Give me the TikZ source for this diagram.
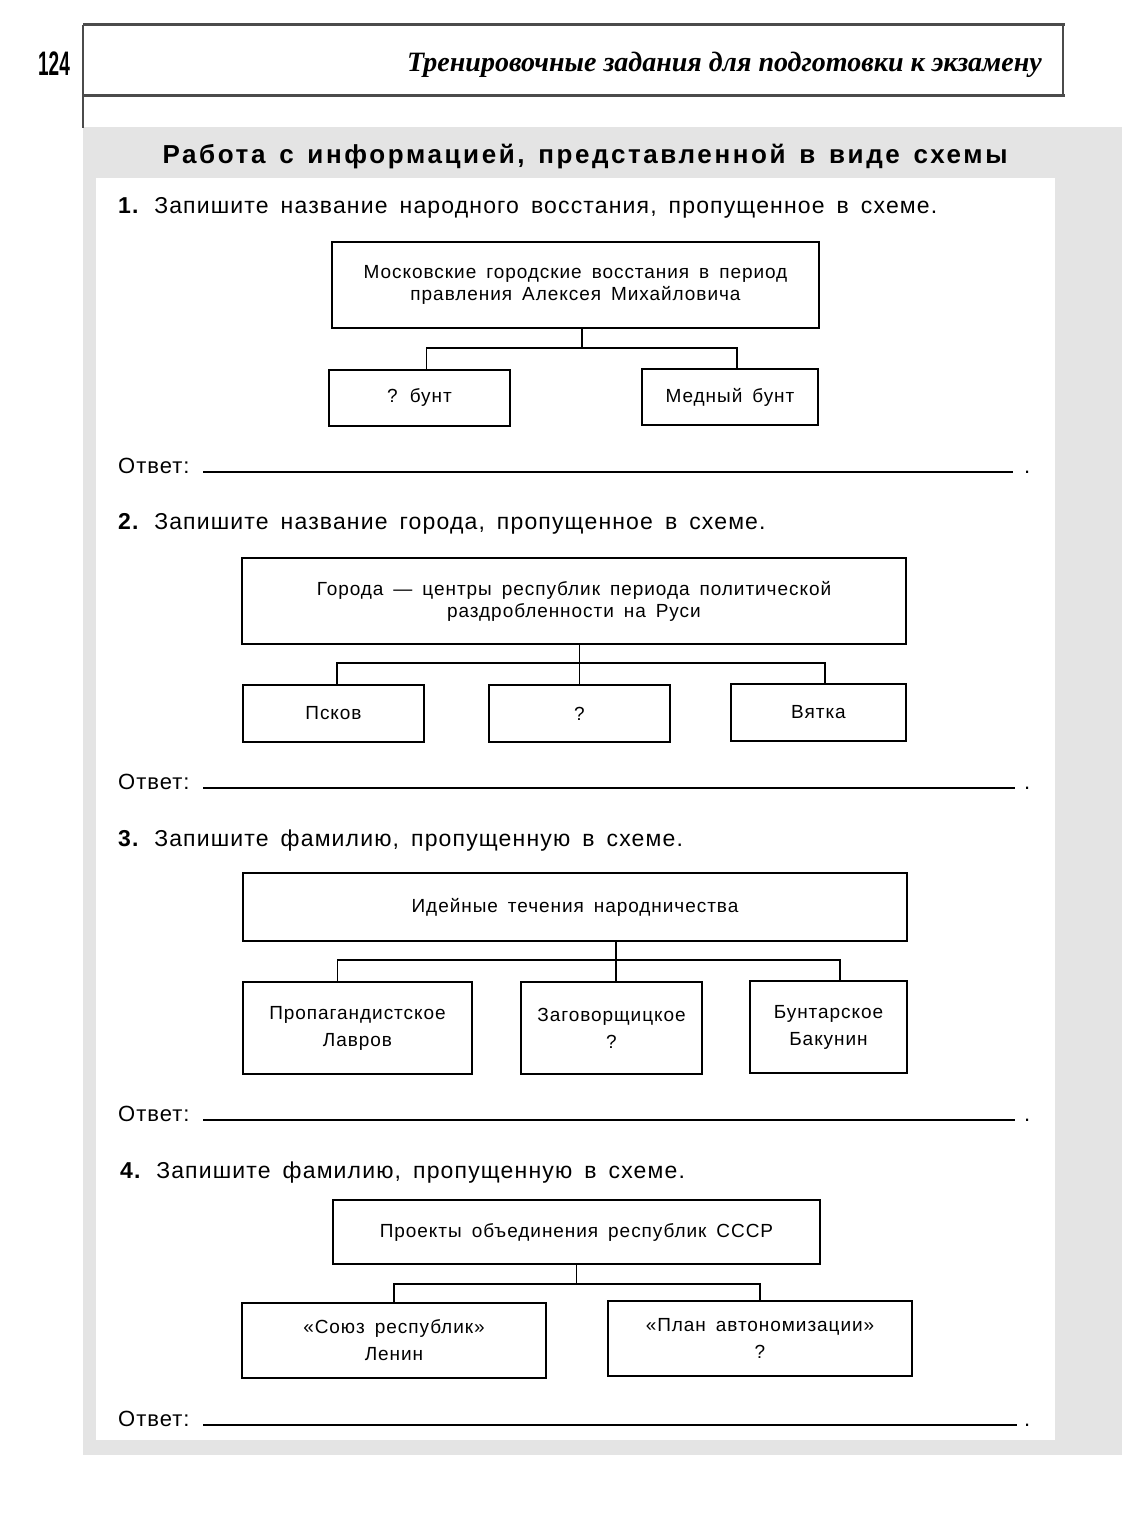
\documentclass[tikz,border=0pt]{standalone}
\usepackage{fontspec}
\setmainfont{Liberation Sans}
\newfontfamily\hdrfont{Liberation Serif}
\newfontfamily\taskfont{Liberation Sans}[LetterSpace=5, WordSpace=1.6]
\newfontfamily\titlefont{Liberation Sans}[LetterSpace=10, WordSpace=1.4]
\newfontfamily\ansfont{Liberation Sans}[LetterSpace=4.5]
\usepackage{tikz}
\usetikzlibrary{calc, positioning}
\definecolor{panelgray}{RGB}{228,228,228}
\definecolor{rulegray}{RGB}{75,75,75}

\begin{document}
\begin{tikzpicture}[x=1pt, y=-1pt,
    box/.style={draw, line width=1.8pt, inner sep=0pt, align=center,
        font=\taskfont\fontsize{19}{22}\selectfont},
    leaf/.style={box, font=\taskfont\fontsize{19}{27}\selectfont},
    link/.style={line width=1.8pt},
    task/.style={anchor=base west, inner sep=0pt,
        font=\taskfont\fontsize{23}{26}\selectfont},
    answer/.style={anchor=base west, inner sep=0pt,
        font=\ansfont\fontsize{22}{25}\selectfont}]
    \useasboundingbox (0,0) rectangle (1122,1525);

    % Фон блока
    \fill[panelgray] (83,127) rectangle (1122,1455);
    \fill[white] (96,178) rectangle (1055,1440);

    % Шапка страницы
    \draw[rulegray, line width=3pt] (83,25) -- (1065,25);
    \draw[rulegray, line width=3pt] (83,96) -- (1065,96);
    \draw[rulegray, line width=2pt] (83,25) -- (83,128);
    \draw[rulegray, line width=2pt] (1063,25) -- (1063,96);
    \node[anchor=base, inner sep=0pt, font=\bfseries\fontsize{34}{34}\selectfont] (page) at (54,76) {\scalebox{0.56}[1]{124}};
    \node[anchor=base east, inner sep=0pt, font=\hdrfont\bfseries\itshape\fontsize{28}{30}\selectfont] (head) at (1042,72) {Тренировочные задания для подготовки к экзамену};

    \node[anchor=base, inner sep=0pt, font=\titlefont\bfseries\fontsize{26}{30}\selectfont] (title) at (585,164) {Работа с информацией, представленной в виде схемы};

    % Задание 1
    \node[task] (t1) at (118,214) {\textbf{1.} Запишите название народного восстания, пропущенное в схеме.};
    \node[box, minimum width=487, minimum height=86] (p1) at (575.5,285) {Московские городские восстания в период\\правления Алексея Михайловича};
    \node[box, minimum width=181, minimum height=56] (q1a) at (419.5,398) {? бунт};
    \node[box, minimum width=176, minimum height=56] (q1b) at (730,397) {Медный бунт};
    \draw[link] ([xshift=6.5pt]p1.south) -- ++(0,19) coordinate (j1);
    \draw[link] ([xshift=7pt]q1a.north) |- (j1) -| ([xshift=7pt]q1b.north);

    % Задание 2
    \node[task] (t2) at (118,529) {\textbf{2.} Запишите название города, пропущенное в схеме.};
    \node[box, minimum width=664, minimum height=86] (p2) at (574,601) {Города — центры республик периода политической\\раздробленности на Руси};
    \node[box, minimum width=181, minimum height=57] (q2a) at (333.5,713.5) {Псков};
    \node[box, minimum width=181, minimum height=57] (q2b) at (579.5,713.5) {?};
    \node[box, minimum width=175, minimum height=57] (q2c) at (818.5,712.5) {Вятка};
    \draw[link] (q2b.north) -- (q2b.north |- p2.south);
    \draw[link] ([xshift=3.5pt]q2a.north) -- ++(0,-21) -| ([xshift=6.5pt]q2c.north);

    % Задание 3
    \node[task] (t3) at (118,846) {\textbf{3.} Запишите фамилию, пропущенную в схеме.};
    \node[box, minimum width=664, minimum height=68] (p3) at (575,907) {Идейные течения народничества};
    \node[leaf, minimum width=229, minimum height=92] (q3a) at (357.5,1028) {Пропагандистское\\Лавров};
    \node[leaf, minimum width=181, minimum height=92] (q3b) at (611.5,1028) {Заговорщицкое\\?};
    \node[leaf, minimum width=157, minimum height=92] (q3c) at (828.5,1027) {Бунтарское\\Бакунин};
    \draw[link] ([xshift=4.5pt]q3b.north) -- ([xshift=4.5pt]q3b.north |- p3.south);
    \draw[link] ([xshift=-20pt]q3a.north) -- ++(0,-21) -| ([xshift=11.5pt]q3c.north);

    % Задание 4
    \node[task] (t4) at (120,1178) {\textbf{4.} Запишите фамилию, пропущенную в схеме.};
    \node[box, minimum width=487, minimum height=64] (p4) at (576.5,1232) {Проекты объединения республик СССР};
    \node[leaf, minimum width=304, minimum height=75] (q4a) at (394,1340.5) {«Союз республик»\\Ленин};
    \node[leaf, minimum width=304, minimum height=75] (q4b) at (760,1338.5) {«План автономизации»\\?};
    \draw[link] (p4.south) -- ++(0,19) coordinate (j4);
    \draw[link] (q4a.north) |- (j4) -| (q4b.north);

    % Строки для ответа
    \foreach \y/\e in {473/1013, 789/1015, 1121/1015, 1426/1017} {
        \node[answer] at (118,\y) {Ответ:};
        \draw[line width=1.2pt] (203,\y-1) -- (\e,\y-1);
        \node[answer] at (1024,\y) {.};
    }
\end{tikzpicture}
\end{document}
